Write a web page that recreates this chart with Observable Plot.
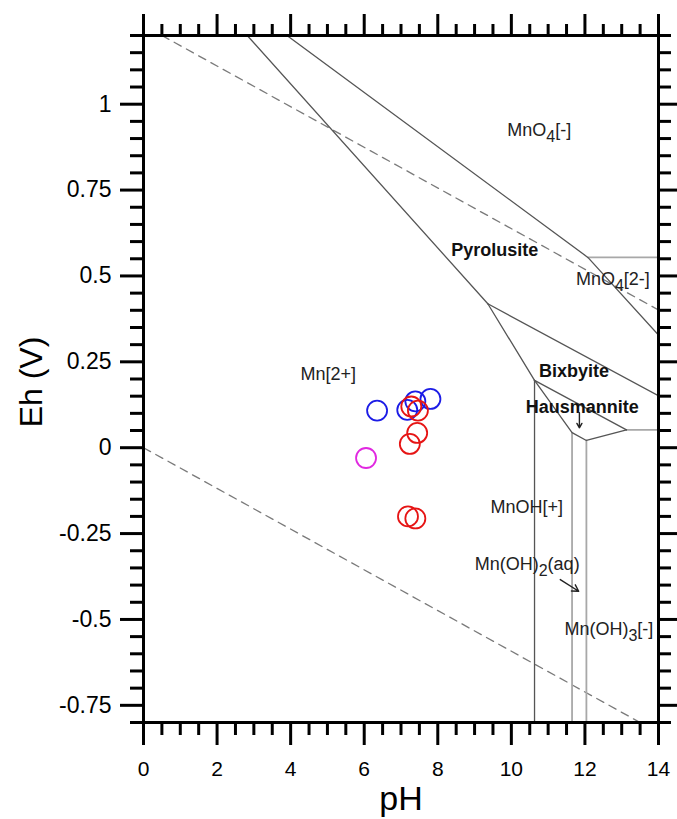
<!DOCTYPE html>
<html>
<head>
<meta charset="utf-8">
<script src="https://cdn.jsdelivr.net/npm/d3@7"></script>
<script src="https://cdn.jsdelivr.net/npm/@observablehq/plot@0.6"></script>
<style>
  html, body { margin: 0; padding: 0; background: #fff; }
  #chart { width: 677px; height: 819px; }
</style>
</head>
<body>
<div id="chart"></div>
<script>
// ---- axis ticks ----
const xMajorTicks = [0, 2, 4, 6, 8, 10, 12, 14];
const xMinorTicks = d3.range(0, 14.001, 0.5).filter(v => v % 2 !== 0);
const yMajorTicks = [-0.75, -0.5, -0.25, 0, 0.25, 0.5, 0.75, 1];
const yMinorTicks = d3.range(-16, 25, 1).map(k => k * 0.05).filter(v => Math.abs((v / 0.25) - Math.round(v / 0.25)) > 1e-6);

// ---- stability-field boundaries (pH, Eh) ----
const lineId   = ["A","A", "B","B","B", "C","C", "D","D", "E","E", "F","F", "G","G", "H","H", "I","I","I","I", "J","J", "K","K", "W1","W1", "W2","W2"];
const linePH   = [2.82,9.36, 3.9,12.08,14, 12.08,14, 9.36,14, 9.36,10.63, 10.63,10.63, 10.63,13.13, 13.13,14, 10.63,11.65,12.04,13.13, 11.65,11.65, 12.04,12.04, 0.5,14, 0,13.5];
const lineEh   = [1.2,0.419, 1.2,0.554,0.328, 0.554,0.554, 0.419,0.151, 0.419,0.196, 0.196,-0.8, 0.196,0.052, 0.052,0.052, 0.196,0.044,0.021,0.052, 0.044,-0.8, 0.021,-0.8, 1.2,0.401, 0,-0.8];
const lineTone = ["dark","dark", "dark","dark","dark", "light","light", "dark","dark", "dark","dark", "dark","dark", "dark","dark", "light","light", "dark","dark","dark","dark", "light","light", "light","light", "water","water", "water","water"];

// ---- samples ----
const samplePH    = [6.35, 7.17, 7.39, 7.80, 7.28, 7.46, 7.44, 7.24, 7.19, 7.39, 6.05];
const sampleEh    = [0.108, 0.110, 0.135, 0.142, 0.120, 0.108, 0.043, 0.011, -0.200, -0.206, -0.030];
const sampleGroup = ["blue","blue","blue","blue","red","red","red","red","red","red","magenta"];
const groupColor  = {blue: "#1c1ce6", red: "#e61414", magenta: "#e028e0"};

// ---- field labels ----
const speciesText = ["MnO4[-]", "MnO4[2-]", "Mn[2+]", "MnOH[+]", "Mn(OH)2(aq)", "Mn(OH)3[-]"];
const speciesPH   = [10.76, 12.76, 5.02, 10.42, 10.43, 12.65];
const speciesEh   = [0.923, 0.489, 0.215, -0.173, -0.340, -0.529];
const mineralText = ["Pyrolusite", "Bixbyite", "Hausmannite"];
const mineralPH   = [9.55, 11.70, 11.93];
const mineralEh   = [0.576, 0.224, 0.119];

// ---- pointer arrows ----
const arrowPH1 = [11.85, 11.33];
const arrowEh1 = [0.102, -0.384];
const arrowPH2 = [11.85, 11.83];
const arrowEh2 = [0.058, -0.418];

const lines = linePH.map((p, i) => ({id: lineId[i], pH: p, Eh: lineEh[i], tone: lineTone[i]}));
const samples = samplePH.map((p, i) => ({pH: p, Eh: sampleEh[i], g: sampleGroup[i]}));
const species = speciesText.map((t, i) => ({t, pH: speciesPH[i], Eh: speciesEh[i]}));
const minerals = mineralText.map((t, i) => ({t, pH: mineralPH[i], Eh: mineralEh[i]}));
const arrows = arrowPH1.map((p, i) => ({x1: p, y1: arrowEh1[i], x2: arrowPH2[i], y2: arrowEh2[i]}));

const chart = Plot.plot({
  width: 677,
  height: 819,
  marginLeft: 143,
  marginRight: 19,
  marginTop: 35,
  marginBottom: 97,
  x: {domain: [0, 14], label: null},
  y: {domain: [-0.8, 1.2], label: null},
  style: {fontFamily: "'Liberation Sans', Arial, sans-serif", background: "#fff", color: "#000", overflow: "visible"},
  marks: [
    Plot.line(lines.filter(d => d.tone === "water"), {x: "pH", y: "Eh", z: "id", stroke: "#7a7a7a", strokeWidth: 1.3, strokeDasharray: "8,6", clip: true}),
    Plot.line(lines.filter(d => d.tone === "light"), {x: "pH", y: "Eh", z: "id", stroke: "#a8a8a8", strokeWidth: 1.8, clip: true}),
    Plot.line(lines.filter(d => d.tone === "dark"), {x: "pH", y: "Eh", z: "id", stroke: "#555", strokeWidth: 1.3, clip: true}),
    Plot.arrow(arrows, {x1: "x1", y1: "y1", x2: "x2", y2: "y2", stroke: "#222", strokeWidth: 1.4, headLength: 8}),
    Plot.text(species, {x: "pH", y: "Eh", text: "t", fontSize: 18, fill: "#222", className: "chem"}),
    Plot.text(minerals, {x: "pH", y: "Eh", text: "t", fontSize: 18, fontWeight: "bold", fill: "#111"}),
    Plot.dot(samples, {x: "pH", y: "Eh", r: 10, stroke: d => groupColor[d.g], strokeWidth: 1.8, fill: "none"}),
    // axes
    Plot.axisX(xMajorTicks, {anchor: "bottom", tickSize: 23, strokeWidth: 3, tickPadding: 16, fontSize: 21, tickFormat: d => String(d), label: null}),
    Plot.axisX(xMinorTicks, {anchor: "bottom", tickSize: 13, strokeWidth: 3, tickFormat: () => "", label: null}),
    Plot.axisX(xMajorTicks, {anchor: "top", tickSize: 22, strokeWidth: 3, tickFormat: () => "", label: null}),
    Plot.axisX(xMinorTicks, {anchor: "top", tickSize: 12, strokeWidth: 3, tickFormat: () => "", label: null}),
    Plot.axisY(yMajorTicks, {anchor: "left", tickSize: 23, strokeWidth: 3, tickPadding: 9, fontSize: 23, tickFormat: d => String(d), label: null}),
    Plot.axisY(yMinorTicks, {anchor: "left", tickSize: 13, strokeWidth: 3, tickFormat: () => "", label: null}),
    Plot.axisY(yMajorTicks, {anchor: "right", tickSize: 20, strokeWidth: 3, tickFormat: () => "", label: null}),
    Plot.axisY(yMinorTicks, {anchor: "right", tickSize: 12, strokeWidth: 3, tickFormat: () => "", label: null}),
    Plot.frame({stroke: "#000", strokeWidth: 3}),
    Plot.text(["pH"], {frameAnchor: "bottom", textAnchor: "middle", lineAnchor: "middle", dy: 77, fontSize: 34, fill: "#000"}),
    Plot.text(["Eh (V)"], {frameAnchor: "left", textAnchor: "middle", lineAnchor: "middle", dx: -112, dy: 3, rotate: -90, fontSize: 32, fill: "#000"})
  ]
});

// render chemical subscripts (digit right after "O" or ")")
chart.querySelectorAll(".chem text").forEach(t => {
  const s = t.textContent;
  const parts = s.split(/(?<=[O)])(\d)/);
  if (parts.length < 2) return;
  t.textContent = "";
  parts.forEach((p, i) => {
    if (!p) return;
    const ts = document.createElementNS("http://www.w3.org/2000/svg", "tspan");
    ts.textContent = p;
    if (i % 2 === 1) {
      ts.setAttribute("dy", "6");
      ts.setAttribute("font-size", "16");
    } else if (i > 0) {
      ts.setAttribute("dy", "-6");
    }
    t.appendChild(ts);
  });
});

document.getElementById("chart").appendChild(chart);
</script>
</body>
</html>
